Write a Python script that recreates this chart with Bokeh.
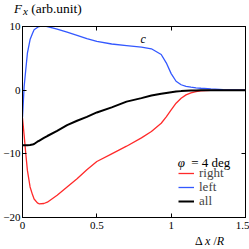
from bokeh.plotting import figure
from bokeh.layouts import column
from bokeh.models import (FixedTicker, LinearAxis, Label, Legend, LegendItem, Range1d, Div)
from bokeh.embed import file_html
from bokeh.resources import INLINE

# ---- data ----
dx = [0, 0.011, 0.022, 0.033, 0.051, 0.067, 0.078, 0.1, 0.111, 0.144, 0.167,
      0.233, 0.3, 0.367, 0.433, 0.5, 0.6, 0.7, 0.8, 0.867, 0.933, 0.967, 1.0,
      1.033, 1.067, 1.1, 1.133, 1.167, 1.2, 1.267, 1.35, 1.5]
f_right = [-4.4, -7.06, -9.95, -12.6, -15.2, -16.4, -17.1, -17.7, -17.85, -17.8,
           -17.6, -16.5, -15.2, -13.9, -12.5, -11.2, -10.0, -8.8, -7.5, -6.5,
           -5.2, -4.2, -3.1, -2.05, -1.27, -0.74, -0.42, -0.22, -0.1, -0.03,
           0.0, 0.0]
f_left = [-4.3, 0.57, 3.2, 5.8, 7.95, 8.9, 9.5, 9.85, 10.0, 10.1, 10.0, 9.6,
          9.1, 8.6, 8.1, 7.65, 7.25, 7.0, 6.75, 6.5, 5.6, 4.3, 2.6, 1.4, 0.85,
          0.6, 0.47, 0.37, 0.3, 0.2, 0.1, 0.02]
f_all = [-8.64, -8.64, -8.64, -8.64, -8.62, -8.55, -8.45, -8.1, -7.95, -7.5,
         -7.2, -6.4, -5.5, -4.8, -4.2, -3.5, -2.7, -1.8, -1.25, -0.85, -0.55,
         -0.43, -0.32, -0.22, -0.15, -0.1, -0.07, -0.05, -0.03, -0.01, 0.0, 0.0]
x_ticks = [0, 0.5, 1, 1.5]
y_ticks = [-20, -10, 0, 10]
series_names = ["right", "left", "all"]

SERIF = "Liberation Serif"

p = figure(width=249, height=215, output_backend="svg", toolbar_location=None,
           x_range=Range1d(0, 1.5), y_range=Range1d(-20, 10),
           min_border_left=20, min_border_right=4, min_border_top=8,
           min_border_bottom=16, margin=0)
p.background_fill_color = "white"
p.border_fill_color = "white"
p.outline_line_color = "black"
p.grid.visible = False

for ax in (p.xaxis[0], p.yaxis[0]):
    ax.major_tick_in = 4
    ax.major_tick_out = 0
    ax.minor_tick_line_color = None
    ax.axis_line_color = "black"
    ax.major_tick_line_color = "black"
    ax.major_label_text_font = SERIF
    ax.major_label_text_font_size = "11px"
    ax.major_label_text_color = "black"
p.xaxis[0].ticker = FixedTicker(ticks=x_ticks)
p.yaxis[0].ticker = FixedTicker(ticks=y_ticks)
p.xaxis[0].major_label_standoff = 4
p.yaxis[0].major_label_standoff = 2

top = LinearAxis(ticker=FixedTicker(ticks=x_ticks), major_tick_in=4, major_tick_out=0,
                 minor_tick_line_color=None,
                 major_label_overrides={t: "" for t in x_ticks})
right = LinearAxis(ticker=FixedTicker(ticks=y_ticks), major_tick_in=4, major_tick_out=0,
                   minor_tick_line_color=None,
                   major_label_overrides={t: "" for t in y_ticks})
p.add_layout(top, "above")
p.add_layout(right, "right")

r_right = p.line(dx, f_right, line_color="#ff2a2a", line_width=1.3)
r_left = p.line(dx, f_left, line_color="#3358ff", line_width=1.3)
r_all = p.line(dx, f_all, line_color="black", line_width=2)

for name, rend, ypos in zip(series_names, [r_right, r_left, r_all], [36, 22, 8]):
    lg = Legend(items=[LegendItem(label=name, renderers=[rend])],
                location=(156, ypos), background_fill_alpha=0, border_line_color=None,
                glyph_width=16, glyph_height=14, label_height=14, spacing=0,
                padding=0, margin=0, label_standoff=5,
                label_text_font=SERIF, label_text_font_size="13px")
    p.add_layout(lg, "center")

def lab(x, y, text, size, style="normal"):
    # x, y: canvas pixels from the top-left corner of the figure (text baseline)
    p.add_layout(Label(x=x, y=y, x_units="canvas", y_units="canvas", text=text,
                       text_font=SERIF, text_font_size=size,
                       text_font_style=style, text_align="left",
                       text_baseline="alphabetic", text_color="black"))

# panel letter
lab(140, 20, "c", "12px", style="italic")
# legend title
lab(177.3, 144, "φ", "13px", style="italic")
lab(190.7, 144, "= 4 deg", "13px")

# y-axis title above the plot
top_div = Div(
    text=('<div style="font-family:\'Liberation Serif\';font-size:13.5px;'
          'line-height:14px;padding:2px 0 0 14px;white-space:nowrap;color:black">'
          '<i style="font-size:13px">F</i>'
          '<i style="font-size:11px;position:relative;top:2px;margin-left:1px">x</i>'
          ' (arb.unit)</div>'),
    width=249, height=18, margin=0)
# x-axis title below the plot
bottom_div = Div(
    text=('<div style="font-family:\'Liberation Serif\';font-size:12px;'
          'line-height:12px;padding:0 0 0 195px;white-space:nowrap;color:black">'
          'Δ <i>x</i> /<i>R</i></div>'),
    width=249, height=16, margin=0)

layout = column(top_div, p, bottom_div, spacing=0, margin=0)

open("out.html", "w").write(file_html(layout, INLINE))
